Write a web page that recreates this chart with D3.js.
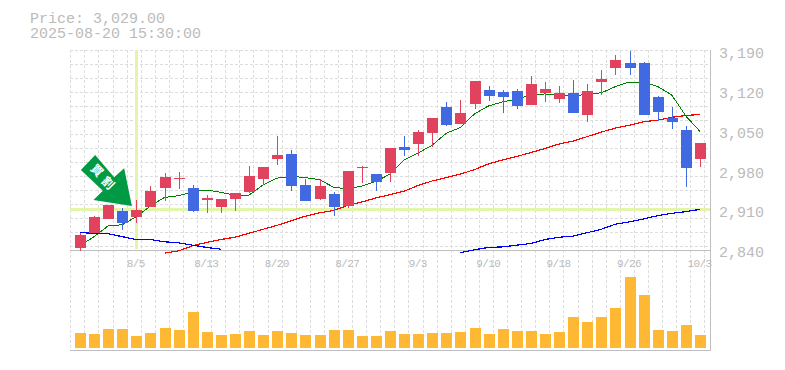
<html lang="en">
<head>
    <meta charset="UTF-8">
    <title>Price chart</title>
    <script src="https://cdn.jsdelivr.net/npm/d3@7"></script>
    <style>
        body{
            margin:0;
            background:#fff;
            overflow:hidden;
        }
        text{
            font-family:"Liberation Mono", monospace;
            fill:#bbb;
        }
        .grid{
            stroke:#ddd;
            stroke-width:1px;
            stroke-dasharray:3 2;
            shape-rendering:crispEdges;
        }
        .frame{
            stroke:#bfbfbf;
            stroke-width:1px;
            shape-rendering:crispEdges;
        }
        .cross{
            stroke:#e3f5aa;
            stroke-width:3px;
            shape-rendering:crispEdges;
        }
        .ma{
            fill:none;
            shape-rendering:crispEdges;
        }
    </style>
</head>
<body>
    <svg id="svg"></svg>
    <script>
        var WIDTH = 785;
        var HEIGHT = 370;

        var priceText = "Price: 3,029.00";
        var dateText = "2025-08-20 15:30:00";

        var opens = [2844,2870,2895,2909,2899,2916,2950,2965,2950,2928,2916,2930,2943,2965,3001,3009,2955,2930,2939,2918,2985,2974,2976,3022,3027,3046,3092,3062,3097,3122,3118,3120,3096,3117,3106,3117,3078,3136,3161,3169,3169,3110,3073,3052,3001];
        var highs = [2871,2900,2920,2915,2928,2953,2976,2978,2955,2937,2930,2941,2988,2987,3041,3016,2965,2965,2943,2979,2988,2974,3020,3041,3052,3073,3101,3104,3138,3129,3122,3124,3147,3136,3129,3140,3133,3157,3184,3191,3171,3111,3092,3059,3029];
        var lows = [2839,2870,2895,2876,2888,2916,2927,2948,2907,2906,2906,2909,2941,2955,2990,2944,2927,2928,2900,2914,2958,2944,2960,3006,3006,3022,3059,3062,3089,3103,3082,3089,3096,3101,3099,3082,3066,3113,3148,3148,3078,3067,3053,2951,2986];
        var closes = [2867,2899,2920,2888,2911,2944,2969,2967,2909,2932,2930,2941,2971,2987,3008,2953,2927,2953,2916,2979,2987,2960,3020,3016,3048,3073,3060,3082,3138,3111,3110,3094,3133,3124,3117,3082,3120,3141,3175,3161,3078,3083,3066,2985,3029];

        var maShort = [2848,2864,2883,2885,2899,2918,2933,2936,2943,2946,2942,2937,2937,2955,2967,2970,2968,2964,2951,2948,2953,2961,2974,2999,3011,3025,3046,3056,3080,3094,3101,3106,3113,3115,3113,3111,3115,3117,3128,3136,3136,3128,3113,3076,3049];
        var maMid = [null,null,null,null,null,null,2835,2839,2848,2854,2859,2863,2870,2877,2884,2892,2900,2906,2910,2919,2925,2932,2938,2944,2954,2962,2968,2974,2982,2992,2999,3005,3012,3019,3027,3032,3040,3048,3055,3060,3066,3069,3074,3077,3079];
        var maLong = [2871,2870,2869,2864,2859,2859,2855,2853,2849,2845,2842,null,null,null,null,null,null,null,null,null,null,null,null,null,null,null,null,2836,2841,2845,2846,2849,2852,2859,2863,2865,2871,2877,2886,2890,2895,2901,2905,2908,2912];

        var volumes = [150,140,190,190,120,150,200,180,360,160,130,140,170,130,170,150,130,130,180,180,120,120,170,140,140,150,150,160,200,140,190,170,170,140,160,310,260,310,400,710,530,180,170,230,130];

        var priceTicks = [2840,2910,2980,3050,3120,3190];
        var dateTicks = {4:"8/5",9:"8/13",14:"8/20",19:"8/27",24:"9/3",29:"9/10",34:"9/18",39:"9/26",44:"10/3"};

        var crossIndex = 4;
        var crossPrice = 2911;

        var svg = d3.select("#svg")
                    .attr("width", WIDTH)
                    .attr("height", HEIGHT);

        var xScale = d3.scaleLinear().domain([0, 44]).range([80, 700]);
        var yScale = d3.scaleLinear().domain([2840, 3190]).range([250.3, 51.3]);
        var vScale = d3.scaleLinear().domain([0, 710]).range([348, 277]);

        // grid
        var grid = svg.append("g");
        d3.range(0, 46).forEach(function(i){
            var gx = Math.round(xScale(i) - 9.7) + 0.5;
            grid.append("line").attr("class","grid")
                .attr("x1", gx).attr("x2", gx).attr("y1", 50).attr("y2", 350);
        });
        d3.range(0, 15).forEach(function(i){
            var gy = 50.5 + i*14;
            grid.append("line").attr("class","grid")
                .attr("x1", 70).attr("x2", 710).attr("y1", gy).attr("y2", gy);
        });

        // crosshair
        svg.append("line").attr("class","cross")
           .attr("x1", xScale(crossIndex)).attr("x2", xScale(crossIndex))
           .attr("y1", 50).attr("y2", 249);
        svg.append("line").attr("class","cross")
           .attr("x1", 70).attr("x2", 710)
           .attr("y1", yScale(crossPrice)).attr("y2", yScale(crossPrice));

        // frame
        svg.append("line").attr("class","frame").attr("x1",70).attr("x2",710).attr("y1",250.5).attr("y2",250.5);
        svg.append("line").attr("class","frame").attr("x1",70).attr("x2",710).attr("y1",350.5).attr("y2",350.5);
        svg.append("line").attr("class","frame").attr("x1",710.5).attr("x2",710.5).attr("y1",50).attr("y2",351);

        // moving averages
        var line = d3.line()
                     .x(function(d,i){return xScale(i)})
                     .y(function(d){return yScale(d)})
                     .defined(function(d){return d !== null});

        [[maShort,"#008000",1],[maMid,"#ff0000",1.2],[maLong,"#0000ff",1.2]].forEach(function(m){
            svg.append("path")
               .datum(m[0])
               .attr("class","ma")
               .attr("stroke", m[1])
               .attr("stroke-width", m[2])
               .attr("d", line);
        });

        // candles
        var UP = "#e1435f";
        var DOWN = "#4169e1";
        var candles = svg.append("g").attr("shape-rendering","crispEdges");
        closes.forEach(function(c,i){
            var col = c >= opens[i] ? UP : DOWN;
            var cx = Math.round(xScale(i));
            candles.append("line")
                   .attr("x1", cx+0.5).attr("x2", cx+0.5)
                   .attr("y1", yScale(highs[i])).attr("y2", yScale(lows[i]))
                   .attr("stroke", col);
            candles.append("rect")
                   .attr("x", cx-5)
                   .attr("y", yScale(Math.max(c, opens[i])))
                   .attr("width", 11)
                   .attr("height", Math.abs(yScale(c)-yScale(opens[i])))
                   .attr("fill", col);
        });

        // volume
        svg.append("g").selectAll("rect")
           .data(volumes)
           .enter().append("rect")
           .attr("x", function(d,i){return Math.round(xScale(i))-5})
           .attr("y", function(d){return vScale(d)})
           .attr("width", 11)
           .attr("height", function(d){return vScale(0)-vScale(d)})
           .attr("fill", "#ffb833")
           .attr("shape-rendering", "crispEdges");

        // axes
        var yAxis = d3.axisRight(yScale)
                      .tickValues(priceTicks)
                      .tickSize(0)
                      .tickPadding(0)
                      .tickFormat(d3.format(","));
        svg.append("g")
           .attr("transform","translate(719,0)")
           .call(yAxis)
           .call(function(g){g.select(".domain").remove()})
           .selectAll("text")
           .attr("font-size", 15)
           .attr("dy", "0.42em")
           .style("font-family", '"Liberation Mono", monospace')
           .style("fill", "#bbb");

        var xAxis = d3.axisBottom(xScale)
                      .tickValues(Object.keys(dateTicks).map(Number))
                      .tickSize(0)
                      .tickPadding(0)
                      .tickFormat(function(d){return dateTicks[d]});
        svg.append("g")
           .attr("transform","translate(-1,259)")
           .call(xAxis)
           .call(function(g){g.select(".domain").remove()})
           .selectAll("text")
           .attr("font-size", 11)
           .attr("letter-spacing", "-0.6px")
           .attr("dy", "0.7em")
           .style("font-family", '"Liberation Mono", monospace')
           .style("fill", "#bbb");

        // header
        svg.append("text").attr("x",30).attr("y",23).attr("font-size",15).text(priceText);
        svg.append("text").attr("x",30).attr("y",38).attr("font-size",15).text(dateText);

        // signal arrow pointing at the crosshair candle
        var tipX = xScale(crossIndex) - 4.5;
        var tipY = yScale(crossPrice) - 4;
        var arrowShape = [[-36.7,-51],[-17.7,-28.7],[-7.7,-37.7],[0,0],[-38.4,-6],[-29,-15.3],[-51,-36]];
        var arrow = svg.append("g")
                       .attr("transform","translate("+tipX+","+tipY+")");
        arrow.append("polygon")
             .attr("points", arrowShape.map(function(p){return p.join(",")}).join(" "))
             .attr("fill", "#009944");
        arrow.selectAll("text.sign")
             .data(["買","割"])
             .enter().append("text")
             .attr("class","sign")
             .attr("transform", function(d,i){
                 return "translate("+(-35+i*11)+","+(-35.5+i*12.5)+") rotate(45)";
             })
             .attr("text-anchor","middle")
             .attr("dy","0.35em")
             .attr("font-size", 12)
             .style("font-family", '"Noto Sans CJK JP", sans-serif')
             .style("font-weight", "700")
             .style("fill", "#fff")
             .text(function(d){return d});
    </script>
</body>
</html>
